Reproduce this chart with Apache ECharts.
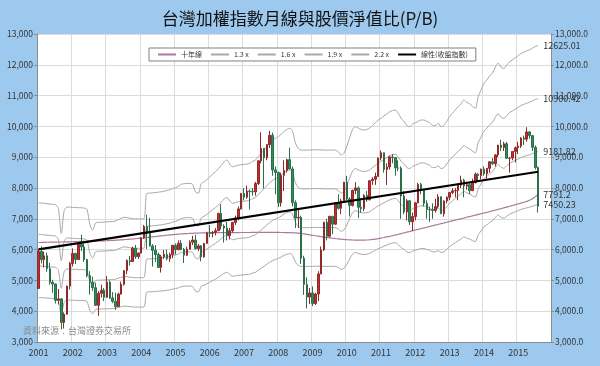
<!DOCTYPE html>
<html><head><meta charset="utf-8">
<script src="https://cdn.jsdelivr.net/npm/echarts@6/dist/echarts.min.js"></script>
<style>html,body{margin:0;padding:0;background:#9dc9ee}#c{width:600px;height:366px}</style>
</head><body><div id="c"></div>
<script>
// ---- data (monthly, Jan 2001 .. Aug 2015) ----
const years = [2001,2002,2003,2004,2005,2006,2007,2008,2009,2010,2011,2012,2013,2014,2015];
const openIdx = [4740,5936,5674,5797,5381,4938,4883,4352,4400,3636,3903,4816,
5551,5872,5680,6167,6084,5675,5153,4941,4764,4191,4579,4680,
4452,4941,4432,4321,4149,4556,4872,5319,5650,5611,6045,5771,
5890,6375,6751,6522,6117,5977,5840,5420,5765,5845,5706,5845,
6140,5994,6207,6006,5818,6012,6241,6312,6033,6119,5764,6203,
6548,6532,6561,6614,7171,6766,6704,6455,6611,6883,7022,7321,
7823,7700,7901,7884,7875,8145,8883,9287,8982,9411,9711,8586,
8506,7521,8412,8572,8920,8619,7524,7024,7046,5719,4870,4460,
4591,4248,4557,5210,5993,6890,6432,7078,6826,7509,7340,7582,
8188,7640,7436,7920,8004,7374,7329,7761,7616,8237,8287,8372,
8972,9145,8600,8683,9008,8988,8652,8644,7741,7225,7587,6904,
7072,7517,8121,7933,7501,7301,7296,7270,7397,7715,7166,7580,
7699,7850,7907,7918,8093,8254,8062,8107,7914,8173,8450,8407,
8611,8462,8639,8849,8791,9075,9393,9315,9436,8966,8974,9187,
9307,9361,9622,9586,9820,9701,9323,8665];
const closeIdx = [5936,5674,5797,5381,4938,4883,4352,4400,3636,3903,4816,5551,
5872,5680,6167,6084,5675,5153,4941,4764,4191,4579,4680,4452,
4941,4432,4321,4149,4556,4872,5319,5650,5611,6045,5771,5890,
6375,6751,6522,6117,5977,5840,5420,5765,5845,5706,5845,6140,
5994,6207,6006,5818,6012,6241,6312,6033,6119,5764,6203,6548,
6532,6561,6614,7171,6766,6704,6455,6611,6883,7022,7321,7823,
7700,7901,7884,7875,8145,8883,9287,8982,9411,9711,8586,8506,
7521,8412,8572,8920,8619,7524,7024,7046,5719,4870,4460,4591,
4248,4557,5210,5993,6890,6432,7078,6826,7509,7340,7582,8188,
7640,7436,7920,8004,7374,7329,7761,7616,8237,8287,8372,8972,
9145,8600,8683,9008,8988,8652,8644,7741,7225,7587,6904,7072,
7517,8121,7933,7501,7301,7296,7270,7397,7715,7166,7580,7699,
7850,7907,7918,8093,8254,8062,8107,7914,8173,8450,8407,8611,
8462,8639,8849,8791,9075,9393,9315,9436,8966,8974,9187,9307,
9361,9622,9586,9820,9701,9323,8665,7410];
const lowIdx = [4720,5550,5420,5280,4860,4600,4250,4220,3411,3446,3890,4700,
5450,5530,5660,5950,5600,5100,4540,4660,4170,3850,4450,4330,
4430,4400,4260,4044,4140,4540,4830,5200,5480,5600,5700,5700,
5870,6350,6020,6100,5450,5600,5400,5255,5700,5650,5600,5720,
5840,5990,5980,5565,5800,6000,6150,6000,5950,5620,5740,6200,
6400,6400,6460,6600,6650,6230,6300,6330,6550,6800,6950,7300,
7600,7650,7300,7750,7750,8100,8800,7987,8900,9300,8400,7800,
7384,7400,7900,8500,8600,7400,6700,6700,5530,4530,4090,4230,
4164,4200,4330,5200,5950,6300,6400,6500,6800,7300,7150,7560,
7600,7080,7400,7800,7030,7200,7250,7550,7600,8100,8100,8370,
8900,8500,8100,8600,8800,8400,8550,7000,7150,6950,6800,6609,
6950,7500,7800,7400,7000,6900,7000,7200,7350,7150,7070,7500,
7600,7800,7700,7600,8000,7700,7950,7800,7900,8150,8200,8280,
8400,8300,8500,8750,8700,9000,9200,9200,8950,8500,8900,8830,
9100,9300,9400,9500,9600,9200,8600,7203];
const highIdx = [5998,6104,5935,5900,5571,5020,4900,4720,4420,3960,4830,5600,
6040,5900,6236,6484,6200,5700,5300,5120,4920,4650,4860,4750,
5141,5000,4620,4600,4600,4960,5320,5680,5790,6095,6150,5900,
6400,6800,7135,7034,6180,6150,5900,5830,5990,6000,5900,6140,
6200,6300,6310,6050,6100,6300,6450,6481,6180,6150,6210,6580,
6800,6600,6700,7200,7474,6820,6900,6700,6900,7100,7400,7830,
8000,8080,7950,8000,8200,8900,9807,9300,9420,9859,9800,8700,
8530,8500,8900,8950,9309,8700,7600,7300,7100,5800,5100,4750,
4800,4600,5300,6100,6900,7000,7100,7100,7540,7800,7650,8200,
8395,7700,7950,8190,8050,7600,7800,7900,8250,8350,8500,8990,
9220,9150,8800,9050,9100,9000,8900,8700,7900,7640,7600,7200,
7550,8170,8170,7950,7600,7400,7500,7650,7800,7720,7600,7730,
7850,7990,8000,8100,8400,8300,8200,8200,8300,8500,8480,8630,
8700,8650,8870,8970,9100,9400,9569,9500,9500,9000,9200,9350,
9500,9650,9700,9973,9850,9720,9380,8700];
// book value of the index
const bookValue = [3418,3415,3410,3405,3400,3395,3390,3330,2966,3300,3355,3355,
3350,3350,3345,3345,3340,3320,3100,3014,3120,3130,3130,3135,
3135,3140,3140,3150,3170,3190,3205,3200,3190,3185,3180,3180,
3180,3185,3560,3560,3565,3570,3575,3580,3590,3600,3610,3630,
3640,3660,3690,3700,3705,3705,3690,3580,3560,3700,3727,3760,
3800,3840,3877,3920,3970,4020,4050,3990,3950,3960,3975,3980,
3985,3990,4000,4030,4050,4100,4150,4197,4250,4300,4340,4370,
4394,4430,4470,4500,4518,4470,4300,4220,4197,4195,4195,4197,
4198,4200,4200,4198,4197,4195,4195,4197,4195,4170,4123,4150,
4250,4380,4500,4542,4520,4500,4493,4500,4520,4560,4600,4640,
4666,4700,4730,4760,4780,4788,4740,4666,4620,4560,4542,4580,
4600,4620,4640,4640,4620,4600,4560,4560,4590,4542,4560,4620,
4690,4740,4790,4837,4880,4936,4900,4880,4840,4814,4985,5080,
5182,5230,5290,5331,5420,5479,5420,5400,5450,5500,5527,5560,
5590,5620,5640,5660,5675,5700,5725,5738.64];
const tenYearMA = [6230,6232,6235,6238,6240,6242,6244,6245,6246,6248,6250,6252,
6255,6258,6262,6266,6270,6272,6274,6276,6278,6280,6283,6286,
6290,6295,6300,6305,6310,6316,6322,6330,6338,6346,6355,6365,
6375,6385,6395,6405,6415,6425,6435,6445,6455,6465,6475,6485,
6495,6503,6510,6516,6521,6526,6530,6534,6537,6540,6542,6544,
6546,6548,6549,6550,6551,6552,6552,6553,6553,6554,6554,6555,
6555,6556,6556,6557,6557,6558,6558,6559,6559,6560,6560,6560,
6558,6556,6554,6552,6550,6546,6540,6532,6522,6510,6496,6480,
6465,6450,6435,6420,6405,6392,6380,6368,6357,6347,6338,6330,
6323,6317,6312,6308,6306,6305,6307,6312,6320,6330,6343,6358,
6375,6393,6412,6432,6453,6475,6497,6520,6543,6566,6589,6612,
6635,6658,6681,6704,6727,6750,6773,6796,6819,6842,6865,6888,
6911,6934,6957,6980,7003,7026,7049,7072,7095,7118,7141,7164,
7187,7210,7234,7258,7282,7306,7331,7356,7381,7406,7432,7458,
7484,7510,7538,7566,7600,7650,7720,7791.2];
const multiples = [1.3, 1.6, 1.9, 2.2];
const bandNames = ['1.3 x', '1.6 x', '1.9 x', '2.2 x'];
const bandEndLabels = ['7450.23', '9181.82', '10900.42', '12625.01'];
const tenYearEndLabel = '7791.2';
const trendEnds = [6005, 8528];   // 線性(收盤指數) start / end values
const yMin = 3000, yMax = 13000, yStep = 1000;

// ---- build ----
const categories = [];
years.forEach(y => { for (let m = 1; m <= 12; m++) categories.push(y + '/' + String(m).padStart(2, '0')); });
const n = closeIdx.length;
const candles = openIdx.map((o, i) => [o, closeIdx[i], lowIdx[i], highIdx[i]]);
const FONT = '"Noto Sans CJK TC","Noto Sans",sans-serif';
const BAND = '#a8a8a8', MA = '#a97a9e';

const bandSeries = multiples.map((k, j) => ({
  name: bandNames[j], type: 'line', yAxisIndex: 0, z: 2,
  data: bookValue.map(b => +(b * k).toFixed(2)),
  symbol: 'none', smooth: 0.3,
  itemStyle: { color: BAND },
  lineStyle: { color: BAND, width: 1 },
  endLabel: { show: true, formatter: bandEndLabels[j], fontSize: 9, color: '#333', distance: 5, fontFamily: FONT },
  silent: true
}));

const chart = echarts.init(document.getElementById('c'), null, { renderer: 'canvas' });
chart.setOption({
  animation: false,
  backgroundColor: '#9dc9ee',
  title: {
    text: '台灣加權指數月線與股價淨值比(P/B)', left: 'center', top: 5,
    textStyle: { fontSize: 17, fontWeight: 'normal', color: '#111', fontFamily: FONT }
  },
  legend: {
    left: 149, top: 48, padding: [3, 8], itemGap: 8, itemWidth: 18, itemHeight: 8,
    backgroundColor: '#fff', borderColor: '#808080', borderWidth: 1, borderRadius: 0,
    itemStyle: { opacity: 0 },
    textStyle: { fontSize: 7, color: '#333', fontFamily: FONT },
    data: ['十年線', '1.3 x', '1.6 x', '1.9 x', '2.2 x', '線性(收盤指數)']
  },
  grid: { left: 37, right: 49, top: 34, bottom: 24, show: true, backgroundColor: '#fff', borderWidth: 0 },
  xAxis: {
    type: 'category', data: categories, boundaryGap: true,
    axisLine: { lineStyle: { color: '#8c8c8c' } },
    axisTick: { show: false },
    axisLabel: { interval: i => i % 12 === 0, formatter: v => v.slice(0, 4), fontSize: 9, color: '#333', margin: 6, fontFamily: FONT },
    splitLine: { show: true, interval: i => i % 12 === 0, lineStyle: { color: '#dcdcdc' } }
  },
  yAxis: [
    { type: 'value', min: yMin, max: yMax, interval: yStep, position: 'left',
      axisLine: { show: true, lineStyle: { color: '#8c8c8c' } },
      axisTick: { show: true, length: 3, lineStyle: { color: '#8c8c8c' } },
      axisLabel: { fontSize: 8.5, color: '#333', margin: 4, fontFamily: FONT, formatter: v => v.toLocaleString('en-US') },
      splitLine: { lineStyle: { color: '#dcdcdc' } } },
    { type: 'value', min: yMin, max: yMax, interval: yStep, position: 'right',
      axisLine: { show: true, lineStyle: { color: '#8c8c8c' } },
      axisTick: { show: true, length: 3, lineStyle: { color: '#8c8c8c' } },
      axisLabel: { fontSize: 8.5, color: '#333', margin: 4, fontFamily: FONT, formatter: v => v.toLocaleString('en-US', { minimumFractionDigits: 1 }) },
      splitLine: { show: false } }
  ],
  graphic: [{
    type: 'text', left: 23, top: 326, z: 100,
    style: { text: '資料來源：台灣證券交易所', fill: '#8a8a8a', font: '9px ' + FONT }
  }],
  series: [
    { name: '十年線', type: 'line', z: 2, data: tenYearMA, symbol: 'none', smooth: 0.3,
      itemStyle: { color: MA },
      lineStyle: { color: MA, width: 1.2 },
      endLabel: { show: true, formatter: tenYearEndLabel, fontSize: 9, color: '#333', distance: 5, fontFamily: FONT } },
    ...bandSeries,
    { name: 'K', type: 'candlestick', z: 3, data: candles, barWidth: 2,
      itemStyle: { color: '#cc2a2e', color0: '#2f8f5c', borderColor: '#8d2a2a', borderColor0: '#2b6e4a', borderWidth: 1 } },
    { name: '線性(收盤指數)', type: 'line', z: 4, symbol: 'none',
      data: [[0, trendEnds[0]], [n - 1, trendEnds[1]]],
      itemStyle: { color: '#000' },
      lineStyle: { color: '#000', width: 2.2 } }
  ]
});
</script></body></html>
